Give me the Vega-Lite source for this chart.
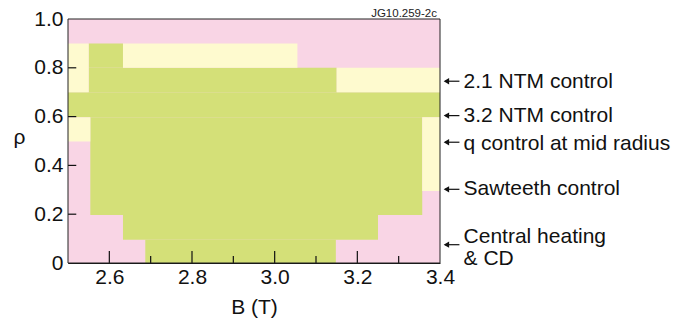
{
  "$schema": "https://vega.github.io/schema/vega-lite/v6.json",
  "width": 372,
  "height": 244,
  "autosize": {"type": "none"},
  "padding": {"left": 68, "top": 19, "right": 237, "bottom": 64},
  "background": "white",
  "config": {
    "font": "Liberation Sans",
    "view": {"stroke": null},
    "axis": {"grid": false, "ticks": false, "zindex": 1, "domainColor": "#111", "labelColor": "#111", "titleColor": "#111", "labelFontSize": 21, "titleFontSize": 21, "titleFontWeight": "normal", "labelFlush": false, "labelOverlap": false}
  },
  "datasets": {
    "zones": [
      {"b0": 2.5, "b1": 3.4, "r0": 0, "r1": 1, "zone": "outside"},
      {"b0": 2.687, "b1": 3.148, "r0": 0, "r1": 0.095, "zone": "full"},
      {"b0": 2.633, "b1": 3.25, "r0": 0.095, "r1": 0.197, "zone": "full"},
      {"b0": 2.554, "b1": 3.357, "r0": 0.197, "r1": 0.597, "zone": "full"},
      {"b0": 2.5, "b1": 3.4, "r0": 0.597, "r1": 0.7, "zone": "full"},
      {"b0": 2.55, "b1": 3.15, "r0": 0.7, "r1": 0.8, "zone": "full"},
      {"b0": 2.55, "b1": 2.633, "r0": 0.8, "r1": 0.9, "zone": "full"},
      {"b0": 3.357, "b1": 3.4, "r0": 0.295, "r1": 0.597, "zone": "partial"},
      {"b0": 2.5, "b1": 2.554, "r0": 0.498, "r1": 0.597, "zone": "partial"},
      {"b0": 2.5, "b1": 2.55, "r0": 0.7, "r1": 0.9, "zone": "partial"},
      {"b0": 3.15, "b1": 3.4, "r0": 0.7, "r1": 0.8, "zone": "partial"},
      {"b0": 2.633, "b1": 3.055, "r0": 0.8, "r1": 0.9, "zone": "partial"}
    ],
    "majorx": [{"B": 2.6}, {"B": 2.8}, {"B": 3.0}, {"B": 3.2}],
    "minorx": [{"B": 2.7}, {"B": 2.9}, {"B": 3.1}, {"B": 3.3}],
    "ticky": [{"rho": 0.2}, {"rho": 0.4}, {"rho": 0.6}, {"rho": 0.8}],
    "arrows": [{"rho": 0.745}, {"rho": 0.604}, {"rho": 0.495}, {"rho": 0.302}, {"rho": 0.075}],
    "notes": [
      {"label": "2.1 NTM control", "rho": 0.716},
      {"label": "3.2 NTM control", "rho": 0.577},
      {"label": "q control at mid radius", "rho": 0.464},
      {"label": "Sawteeth control", "rho": 0.279},
      {"label": "Central heating\n& CD", "rho": 0.083}
    ]
  },
  "layer": [
    {
      "data": {"name": "zones"},
      "mark": {"type": "rect"},
      "encoding": {
        "x": {"field": "b0", "type": "quantitative", "scale": {"domain": [2.5, 3.4], "nice": false, "zero": false},
          "axis": {"values": [2.6, 2.8, 3.0, 3.2, 3.4], "format": ".1f", "labelPadding": 20, "labelBaseline": "alphabetic", "title": "B (T)", "titleX": 186, "titleY": 50, "titleBaseline": "alphabetic", "titleAlign": "center"}},
        "x2": {"field": "b1"},
        "y": {"field": "r0", "type": "quantitative", "scale": {"domain": [0, 1], "nice": false},
          "axis": {"values": [0, 0.2, 0.4, 0.6, 0.8, 1], "labelExpr": "datum.value == 0 ? '0' : format(datum.value, '.1f')", "labelPadding": 5, "title": "ρ", "titleAngle": 0, "titleX": -49, "titleY": 124, "titleAlign": "center", "titleBaseline": "alphabetic"}},
        "y2": {"field": "r1"},
        "color": {"field": "zone", "type": "nominal", "scale": {"domain": ["outside", "partial", "full"], "range": ["#F9D5E5", "#FEFACF", "#D4E078"]}, "legend": null}
      }
    },
    {
      "data": {"name": "majorx"},
      "mark": {"type": "rule", "color": "#111", "strokeWidth": 1.2},
      "encoding": {
        "x": {"field": "B", "type": "quantitative"},
        "y": {"datum": 0},
        "y2": {"datum": 0.049}
      }
    },
    {
      "data": {"name": "minorx"},
      "mark": {"type": "rule", "color": "#111", "strokeWidth": 1.2},
      "encoding": {
        "x": {"field": "B", "type": "quantitative"},
        "y": {"datum": 0},
        "y2": {"datum": 0.0287}
      }
    },
    {
      "data": {"name": "ticky"},
      "mark": {"type": "rule", "color": "#111", "strokeWidth": 1.2},
      "encoding": {
        "y": {"field": "rho", "type": "quantitative"},
        "x": {"datum": 2.5},
        "x2": {"datum": 2.52}
      }
    },
    {
      "data": {"values": [{}]},
      "mark": {"type": "rect", "fill": null, "stroke": "#222", "strokeWidth": 1},
      "encoding": {
        "x": {"datum": 2.5},
        "x2": {"datum": 3.4},
        "y": {"datum": 0},
        "y2": {"datum": 1}
      }
    },
    {
      "data": {"name": "arrows"},
      "mark": {"type": "rule", "color": "#111", "strokeWidth": 1.2},
      "encoding": {
        "x": {"datum": 3.412},
        "x2": {"datum": 3.447},
        "y": {"field": "rho", "type": "quantitative"}
      }
    },
    {
      "data": {"name": "arrows"},
      "mark": {"type": "point", "shape": "triangle-left", "filled": true, "color": "#111", "size": 40, "opacity": 1},
      "encoding": {
        "x": {"datum": 3.4155},
        "y": {"field": "rho", "type": "quantitative"}
      }
    },
    {
      "data": {"name": "notes"},
      "mark": {"type": "text", "align": "left", "baseline": "alphabetic", "fontSize": 21, "color": "#111", "lineBreak": "\n", "lineHeight": 22},
      "encoding": {
        "x": {"datum": 3.457},
        "y": {"field": "rho", "type": "quantitative"},
        "text": {"field": "label"}
      }
    },
    {
      "data": {"values": [{"tag": "JG10.259-2c"}]},
      "mark": {"type": "text", "align": "right", "baseline": "alphabetic", "fontSize": 11.5, "color": "#222", "dx": -3, "dy": -2},
      "encoding": {
        "x": {"datum": 3.4},
        "y": {"datum": 1},
        "text": {"field": "tag"}
      }
    }
  ]
}
